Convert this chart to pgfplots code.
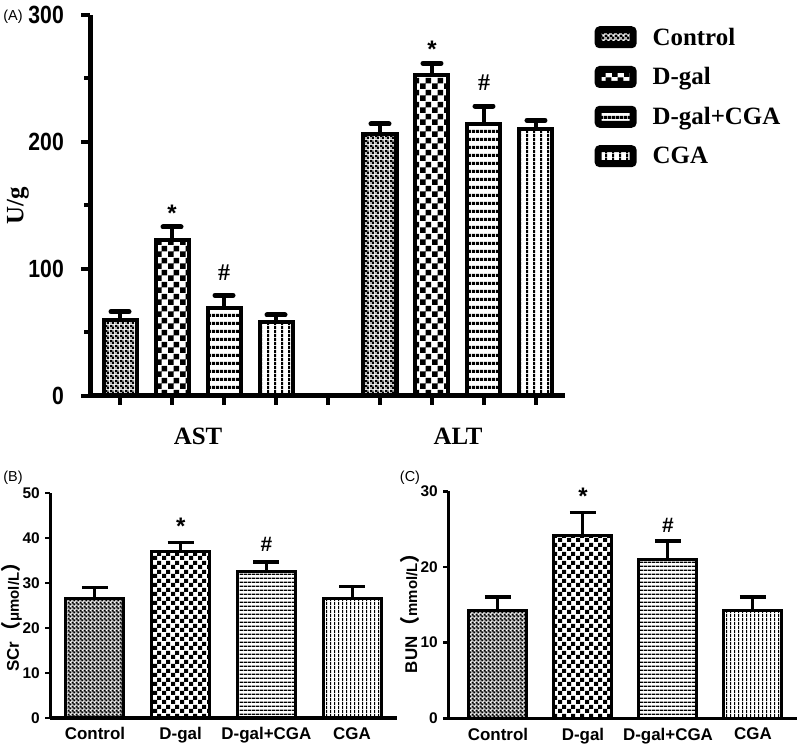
\documentclass[border=0pt]{standalone}
\usepackage{pgfplots}
\pgfplotsset{compat=1.18}
\usepackage{pgfplotstable}
\usepackage{fontspec}
\setmainfont{Liberation Serif}
\setsansfont{Liberation Sans}
\newfontfamily\cjk{Noto Sans CJK SC}
\newfontfamily\cond[FakeStretch=0.85]{Liberation Sans}
\usetikzlibrary{patterns}

% ---------- patterns ----------
% black with staggered white dots
\pgfdeclarepatternformonly{ctrlA}{\pgfqpoint{0bp}{0bp}}{\pgfqpoint{5bp}{5bp}}{\pgfqpoint{5bp}{5bp}}{%
  \pgfpathrectangle{\pgfqpoint{0bp}{0bp}}{\pgfqpoint{5bp}{5bp}}%
  \pgfpathrectangle{\pgfqpoint{0.25bp}{0.25bp}}{\pgfqpoint{2bp}{2bp}}%
  \pgfpathrectangle{\pgfqpoint{2.75bp}{2.75bp}}{\pgfqpoint{2bp}{2bp}}%
  \pgfseteorule\pgfusepath{fill}}
\pgfdeclarepatternformonly{ctrlB}{\pgfqpoint{0bp}{0bp}}{\pgfqpoint{3.6bp}{3.6bp}}{\pgfqpoint{3.6bp}{3.6bp}}{%
  \pgfpathrectangle{\pgfqpoint{0bp}{0bp}}{\pgfqpoint{3.6bp}{3.6bp}}%
  \pgfpathrectangle{\pgfqpoint{0.1bp}{0.1bp}}{\pgfqpoint{1.5bp}{1.5bp}}%
  \pgfpathrectangle{\pgfqpoint{1.9bp}{1.9bp}}{\pgfqpoint{1.5bp}{1.5bp}}%
  \pgfseteorule\pgfusepath{fill}}
\pgfdeclarepatternformonly{dgalA}{\pgfqpoint{0bp}{0bp}}{\pgfqpoint{12bp}{12bp}}{\pgfqpoint{12bp}{12bp}}{%
  \pgfpathrectangle{\pgfqpoint{0bp}{0bp}}{\pgfqpoint{6bp}{6bp}}%
  \pgfpathrectangle{\pgfqpoint{6bp}{6bp}}{\pgfqpoint{6bp}{6bp}}%
  \pgfusepath{fill}}
\pgfdeclarepatternformonly{dgalB}{\pgfqpoint{0bp}{0bp}}{\pgfqpoint{9bp}{9bp}}{\pgfqpoint{9bp}{9bp}}{%
  \pgfpathrectangle{\pgfqpoint{0bp}{0bp}}{\pgfqpoint{4.5bp}{4.5bp}}%
  \pgfpathrectangle{\pgfqpoint{4.5bp}{4.5bp}}{\pgfqpoint{4.5bp}{4.5bp}}%
  \pgfusepath{fill}}
\pgfdeclarepatternformonly{hlA}{\pgfqpoint{0bp}{0bp}}{\pgfqpoint{4bp}{7.5bp}}{\pgfqpoint{4bp}{7.5bp}}{%
  \pgfpathrectangle{\pgfqpoint{0bp}{0bp}}{\pgfqpoint{4bp}{3.3bp}}%
  \pgfusepath{fill}}
\pgfdeclarepatternformonly{hlB}{\pgfqpoint{0bp}{0bp}}{\pgfqpoint{4bp}{3.8bp}}{\pgfqpoint{4bp}{3.8bp}}{%
  \pgfpathrectangle{\pgfqpoint{0bp}{0bp}}{\pgfqpoint{4bp}{1.5bp}}%
  \pgfusepath{fill}}
\pgfdeclarepatternformonly{vlA}{\pgfqpoint{0bp}{0bp}}{\pgfqpoint{6.5bp}{4bp}}{\pgfqpoint{6.5bp}{4bp}}{%
  \pgfpathrectangle{\pgfqpoint{0bp}{0bp}}{\pgfqpoint{2.2bp}{4bp}}%
  \pgfusepath{fill}}
\pgfdeclarepatternformonly{vlB}{\pgfqpoint{0bp}{0bp}}{\pgfqpoint{4.3bp}{4bp}}{\pgfqpoint{4.3bp}{4bp}}{%
  \pgfpathrectangle{\pgfqpoint{0bp}{0bp}}{\pgfqpoint{1.4bp}{4bp}}%
  \pgfusepath{fill}}

% ---------- fonts ----------
\newcommand\tkA{\cond\bfseries\fontsize{25}{25}\selectfont}
\newcommand\lgA{\rmfamily\bfseries\fontsize{25}{25}\selectfont}
\newcommand\labA{\rmfamily\bfseries\fontsize{25}{25}\selectfont}
\newcommand\tkB{\sffamily\bfseries\fontsize{15.5}{15.5}\selectfont}
\newcommand\xtB{\sffamily\bfseries\fontsize{17}{17}\selectfont}
\newcommand\panel{\sffamily\fontsize{14.5}{14.5}\selectfont}

% ---------- data ----------
\pgfplotstableread{
x y e
1 59.8 6.6
6 206.5 7.7
}\ActrlA
\pgfplotstableread{
x y e
2 123.1 10
7 253 9
}\AdgalA
\pgfplotstableread{
x y e
3 69.3 10
8 213.9 14.4
}\AdcgaA
\pgfplotstableread{
x y e
4 58.3 5.5
9 210.5 6.5
}\AcgaA

\pgfplotsset{
  barA/.style={forget plot, ybar, bar width=33bp, bar shift=0pt, draw=black, line width=4bp,
    /pgfplots/error bars/y dir=plus, /pgfplots/error bars/y explicit,
    /pgfplots/error bars/error bar style={line width=4bp, black},
    /pgfplots/error bars/error mark options={rotate=90, line width=5bp, mark size=9bp, black, line cap=round}},
  barB/.style={ybar, bar width=58bp, bar shift=0pt, draw=black, line width=3bp,
    /pgfplots/error bars/y dir=plus, /pgfplots/error bars/y explicit,
    /pgfplots/error bars/error bar style={line width=3bp, black},
    /pgfplots/error bars/error mark options={rotate=90, line width=3.5bp, mark size=13bp, black}},
  smallaxis/.style={
    scale only axis,
    axis x line*=bottom, axis y line*=left,
    axis line style={line width=3bp},
    xtick={0,1,2,3},
    xticklabels={Control,D-gal,D-gal+CGA,CGA},
    x tick style={draw=none},
    xticklabel style={font=\xtB, yshift=-1bp},
    tick align=outside,
    major tick length=5bp,
    y tick style={black, line width=2.5bp},
    /pgf/number format/assume math mode=true,
    yticklabel style={font=\tkB, anchor=east, inner xsep=0pt, xshift=-5bp},
    clip=false,
  },
}

\begin{document}
\begin{tikzpicture}[x=1bp,y=1bp]
\useasboundingbox (0,0) rectangle (800,749);

% ================= Panel A =================
\begin{axis}[
  at={(90bp,353bp)}, anchor=south west,
  scale only axis, width=475bp, height=381bp,
  xmin=0.423, xmax=9.558, ymin=0, ymax=300,
  axis x line*=bottom, axis y line*=left,
  axis line style={line width=5bp},
  xtick={1,...,9}, xticklabels={},
  ytick={0,100,200,300}, minor ytick={50,150,250},
  tick align=outside,
  major tick length=9bp, minor tick length=6bp,
  tick style={black, line width=4bp},
  /pgf/number format/assume math mode=true,
  yticklabel style={font=\tkA, anchor=east, inner xsep=0pt, xshift=-17bp},
  ylabel={U/g},
  every axis y label/.style={at={(axis description cs:-0.152,0.5)}, rotate=90, anchor=center, font=\labA},
  clip=false,
  legend image code/.code={\draw[#1, draw=black, line width=7bp, rounded corners=2bp] (0bp,-7.5bp) rectangle (35bp,7.5bp);},
  legend style={draw=none, fill=none, at={(axis description cs:1.062,0.972)}, anchor=north west,
    font=\lgA, row sep=17bp, column sep=14bp, inner sep=0pt},
  legend cell align=left,
]
\addplot[pattern=ctrlA, barA] table[x=x, y=y, y error=e] {\ActrlA};
\addplot[pattern=dgalA, barA] table[x=x, y=y, y error=e] {\AdgalA};
\addplot[pattern=hlA, barA] table[x=x, y=y, y error=e] {\AdcgaA};
\addplot[pattern=vlA, barA] table[x=x, y=y, y error=e] {\AcgaA};
\addlegendimage{pattern=ctrlA}\addlegendentry{Control}
\addlegendimage{pattern=dgalA}\addlegendentry{D-gal}
\addlegendimage{pattern=hlA}\addlegendentry{D-gal+CGA}
\addlegendimage{pattern=vlA}\addlegendentry{CGA}
\node[font=\labA] at (axis cs:2.5,0) [yshift=-40bp] {AST};
\node[font=\labA] at (axis cs:7.5,0) [yshift=-40bp] {ALT};
\node[font=\sffamily\bfseries\fontsize{24}{24}\selectfont] at (axis cs:2,144) {*};
\node[font=\rmfamily\bfseries\fontsize{24}{24}\selectfont] at (axis cs:3,97) {\#};
\node[font=\sffamily\bfseries\fontsize{24}{24}\selectfont] at (axis cs:7,273) {*};
\node[font=\rmfamily\bfseries\fontsize{24}{24}\selectfont] at (axis cs:8,247) {\#};
\end{axis}

% ================= Panel B =================
\begin{axis}[smallaxis,
  at={(50bp,31bp)}, anchor=south west,
  width=347bp, height=225bp,
  xmin=-0.525, xmax=3.525, ymin=0, ymax=50,
  ytick={0,10,...,50},
  ylabel={SCr{\cjk\fontsize{20}{20}\selectfont （}{\fontsize{15}{15}\selectfont μmol/L}{\cjk\fontsize{20}{20}\selectfont ）}},
  every axis y label/.style={at={(axis description cs:-0.11,0.47)}, rotate=90, anchor=center, font=\sffamily\bfseries\fontsize{17}{17}\selectfont},
]
\addplot[pattern=ctrlB, barB] coordinates {(0,26.5) +- (0,2.5)};
\addplot[pattern=dgalB, barB] coordinates {(1,37.0) +- (0,2.0)};
\addplot[pattern=hlB, barB] coordinates {(2,32.6) +- (0,2.1)};
\addplot[pattern=vlB, barB] coordinates {(3,26.5) +- (0,2.7)};
\node[font=\sffamily\bfseries\fontsize{24}{24}\selectfont] at (axis cs:1,42.5) {*};
\node[font=\sffamily\bfseries\fontsize{21}{21}\selectfont] at (axis cs:2,38.5) {\#};
\end{axis}

% ================= Panel C =================
\begin{axis}[smallaxis,
  at={(448bp,30.7bp)}, anchor=south west,
  width=349bp, height=227bp,
  xmin=-0.588, xmax=3.518, ymin=0, ymax=30,
  ytick={0,10,20,30},
  ylabel={BUN{\cjk\fontsize{20}{20}\selectfont （}{\fontsize{15}{15}\selectfont mmol/L}{\cjk\fontsize{20}{20}\selectfont ）}},
  every axis y label/.style={at={(axis description cs:-0.11,0.485)}, rotate=90, anchor=center, font=\sffamily\bfseries\fontsize{17}{17}\selectfont},
]
\addplot[pattern=ctrlB, barB] coordinates {(0,14.3) +- (0,1.7)};
\addplot[pattern=dgalB, barB] coordinates {(1,24.1) +- (0,3.1)};
\addplot[pattern=hlB, barB] coordinates {(2,21.0) +- (0,2.4)};
\addplot[pattern=vlB, barB] coordinates {(3,14.3) +- (0,1.7)};
\node[font=\sffamily\bfseries\fontsize{24}{24}\selectfont] at (axis cs:1,29.3) {*};
\node[font=\sffamily\bfseries\fontsize{21}{21}\selectfont] at (axis cs:2,25.5) {\#};
\end{axis}

% panel labels
\node[font=\panel] at (13,732) {(A)};
\node[font=\panel] at (13,271) {(B)};
\node[font=\panel] at (410,271) {(C)};
\end{tikzpicture}
\end{document}
